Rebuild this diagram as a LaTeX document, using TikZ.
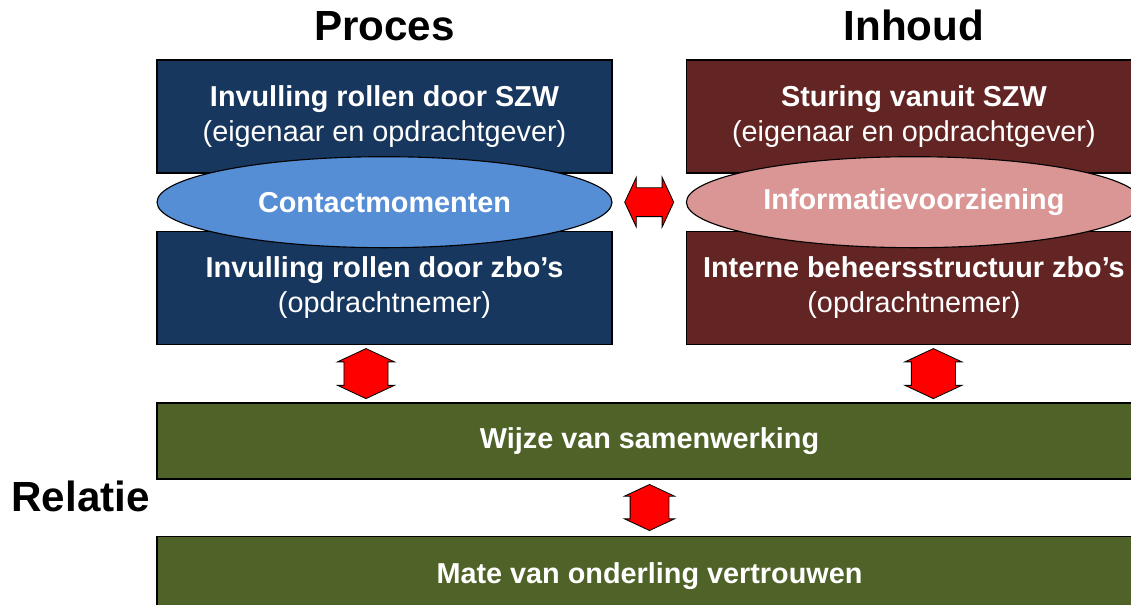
\documentclass[tikz,border=0pt]{standalone}
\usepackage{fontspec}
\setmainfont{Liberation Sans}
\usepackage{xcolor}
\definecolor{procesBlue}{HTML}{17375E}
\definecolor{inhoudBrown}{HTML}{632523}
\definecolor{contactBlue}{HTML}{558ED5}
\definecolor{infoPink}{HTML}{D99694}
\definecolor{relatieGreen}{HTML}{4F6228}
\usepackage{tikz}
\usetikzlibrary{shapes,arrows,positioning,calc,arrows.meta,shapes.geometric}
\tikzset{%
  roleBox/.style={%
    rectangle,
    draw=black,
    line width=1pt,
    text=white,
    minimum width=11.375cm,
    minimum height=2.825cm,
    inner sep=0pt,
    align=center,
    font=\fontsize{20.5}{25}\selectfont
  },
  relBox/.style={%
    rectangle,
    draw=black,
    line width=1pt,
    fill=relatieGreen,
    text=white,
    minimum width=24.625cm,
    minimum height=1.9cm,
    align=center,
    font=\fontsize{20.5}{25}\selectfont\bfseries
  },
  linkEllipse/.style={%
    ellipse,
    draw=black,
    line width=0.8pt,
    text=white,
    minimum width=11.375cm,
    minimum height=2.275cm,
    inner sep=0pt,
    font=\fontsize{20.5}{25}\selectfont\bfseries
  },
  blockArrow/.style={%
    double arrow,
    draw=black,
    fill=red,
    line width=0.6pt,
    inner xsep=0pt,
    double arrow tip angle=130
  },
  titleText/.style={%
    inner sep=0pt,
    font=\fontsize{30}{36}\selectfont\bfseries
  }
}

\begin{document}
\begin{tikzpicture}[node distance=1.425cm]
  \useasboundingbox (0,0) rectangle (28.275,15.125);

  % Proces
  \node[roleBox, fill=procesBlue] (szwRol) at (9.6125,12.2125) {\textbf{Invulling rollen door SZW}\\(eigenaar en opdrachtgever)};
  \node[roleBox, fill=procesBlue, below=of szwRol] (zboRol) {\textbf{Invulling rollen door zbo’s}\\(opdrachtnemer)};
  \node[titleText, above=0.45cm of szwRol] (proces) {Proces};

  % Inhoud
  \node[roleBox, fill=inhoudBrown, right=1.825cm of szwRol] (szwSturing) {\textbf{Sturing vanuit SZW}\\(eigenaar en opdrachtgever)};
  \node[roleBox, fill=inhoudBrown, below=of szwSturing] (zboBeheer) {\textbf{Interne beheersstructuur zbo’s}\\(opdrachtnemer)};
  \node[titleText, above=0.45cm of szwSturing] (inhoud) {Inhoud};

  \node[linkEllipse, fill=contactBlue] (contact) at ($(szwRol.south)!0.5!(zboRol.north)$) {Contactmomenten};
  \node[linkEllipse, fill=infoPink] (info) at ($(szwSturing.south)!0.5!(zboBeheer.north)$) {Informatievoorziening};

  % Relatie
  \node[relBox, below=1.425cm of zboRol.south west, anchor=north west] (samenwerking) {Wijze van samenwerking};
  \node[relBox, minimum height=2cm, below=1.4cm of samenwerking] (vertrouwen) {Mate van onderling vertrouwen};
  \node[titleText, anchor=base east] (relatie) at (3.75,2.325) {Relatie};

  % block arrows
  \node[blockArrow, minimum height=1.225cm, minimum width=1.225cm, inner ysep=0.35cm, double arrow head extend=0.26cm] (procesInhoud) at ($(contact.east)!0.5!(info.west)$) {};
  \node[blockArrow, rotate=90, minimum height=1.25cm, minimum width=1.4cm, inner ysep=0.54cm, double arrow head extend=0.16cm] (procesRelatie) at ($(zboRol.south)!0.5!(zboRol.south |- samenwerking.north)+(-0.4625,0)$) {};
  \node[blockArrow, rotate=90, minimum height=1.25cm, minimum width=1.4cm, inner ysep=0.54cm, double arrow head extend=0.16cm] (inhoudRelatie) at ($(zboBeheer.south)!0.5!(zboBeheer.south |- samenwerking.north)+(0.4875,0)$) {};
  \node[blockArrow, rotate=90, minimum height=1.15cm, minimum width=1.225cm, inner ysep=0.475cm, double arrow head extend=0.14cm] (vertrouwenLink) at ($(samenwerking.south)!0.5!(vertrouwen.north)$) {};
\end{tikzpicture}
\end{document}
